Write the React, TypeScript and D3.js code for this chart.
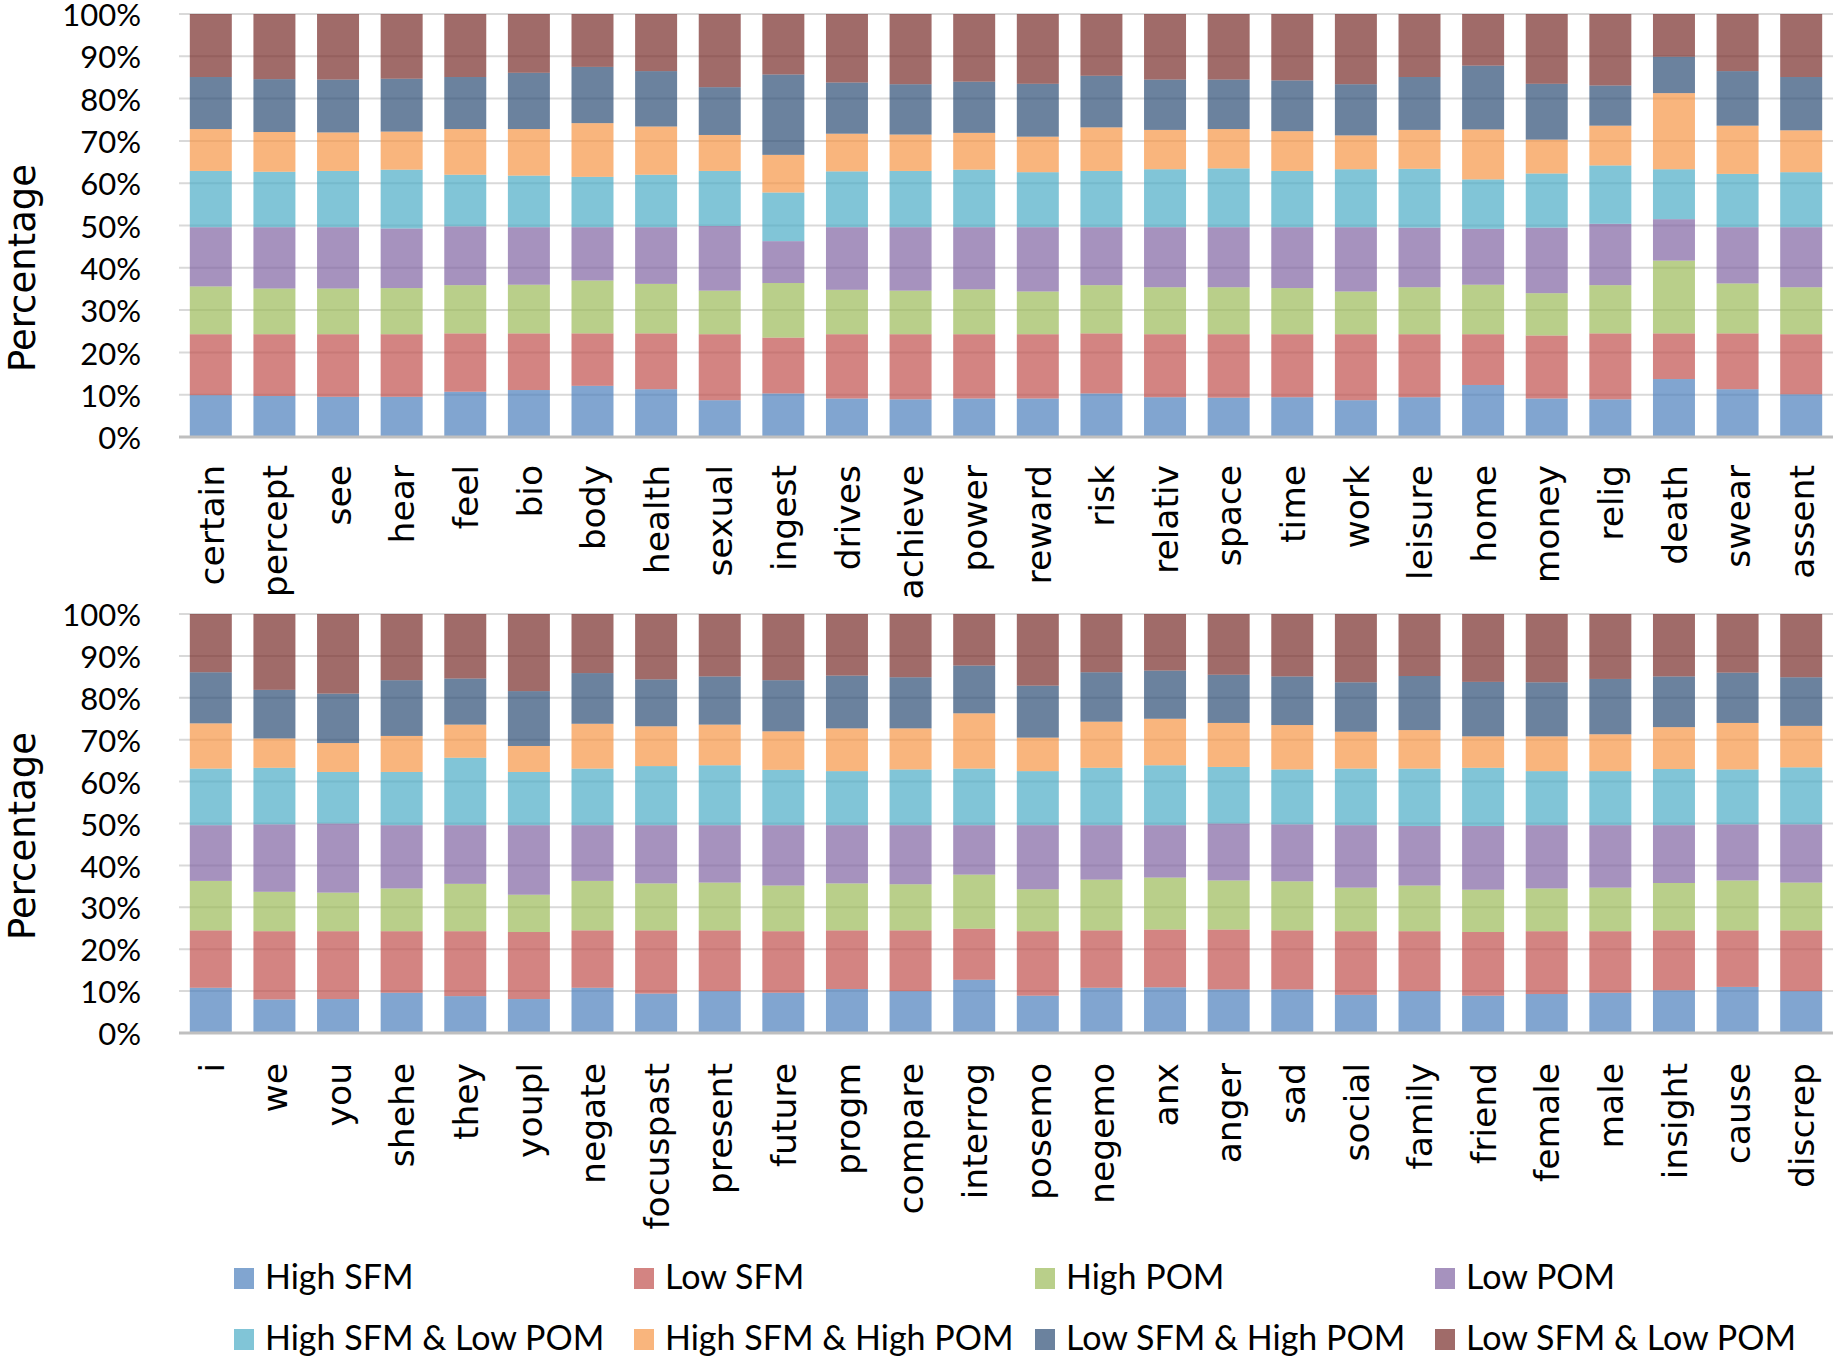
import React from 'react';
import * as d3 from 'd3';

const seriesNames = ['High SFM', 'Low SFM', 'High POM', 'Low POM', 'High SFM & Low POM', 'High SFM & High POM', 'Low SFM & High POM', 'Low SFM & Low POM'];
const seriesColors = ['#4C7FBC', '#C0504D', '#9BBB59', '#8064A2', '#4BACC6', '#F79646', '#2C4D75', '#772C2A'];

const topCategories = ['certain', 'percept', 'see', 'hear', 'feel', 'bio', 'body', 'health', 'sexual', 'ingest', 'drives', 'achieve', 'power', 'reward', 'risk', 'relativ', 'space', 'time', 'work', 'leisure', 'home', 'money', 'relig', 'death', 'swear', 'assent'];
const bottomCategories = ['i', 'we', 'you', 'shehe', 'they', 'youpl', 'negate', 'focuspast', 'present', 'future', 'progm', 'compare', 'interrog', 'posemo', 'negemo', 'anx', 'anger', 'sad', 'social', 'family', 'friend', 'female', 'male', 'insight', 'cause', 'discrep'];

// Top chart series (percent of each bar)
const topHighSFM = [9.9, 9.7, 9.5, 9.5, 10.7, 11.1, 12.1, 11.3, 8.7, 10.3, 9.1, 8.9, 9.1, 9.1, 10.3, 9.4, 9.3, 9.4, 8.7, 9.4, 12.3, 9.1, 8.9, 13.7, 11.3, 10.1];
const topLowSFM = [14.4, 14.6, 14.8, 14.8, 13.8, 13.4, 12.4, 13.2, 15.6, 13.2, 15.2, 15.4, 15.2, 15.2, 14.2, 14.9, 15.0, 14.9, 15.6, 14.9, 12.0, 14.9, 15.6, 10.8, 13.2, 14.2];
const topHighPOM = [11.3, 10.8, 10.8, 10.9, 11.4, 11.5, 12.5, 11.7, 10.3, 12.9, 10.5, 10.3, 10.6, 10.1, 11.4, 11.1, 11.1, 10.9, 10.1, 11.1, 11.7, 10.0, 11.4, 17.2, 11.8, 11.1];
const topLowPOM = [14.0, 14.5, 14.5, 14.1, 13.9, 13.6, 12.6, 13.4, 15.3, 9.9, 14.8, 15.0, 14.7, 15.2, 13.7, 14.2, 14.2, 14.4, 15.2, 14.1, 13.2, 15.5, 14.5, 9.8, 13.3, 14.2];
const topHighSFMLowPOM = [13.3, 13.1, 13.3, 13.9, 12.2, 12.2, 11.9, 12.4, 13.0, 11.5, 13.2, 13.3, 13.6, 13.0, 13.3, 13.7, 13.9, 13.3, 13.7, 13.9, 11.7, 12.8, 13.8, 11.8, 12.6, 13.0];
const topHighSFMHighPOM = [9.9, 9.4, 9.1, 9.0, 10.8, 11.0, 12.7, 11.4, 8.5, 8.9, 8.9, 8.6, 8.7, 8.4, 10.3, 9.3, 9.3, 9.4, 8.0, 9.2, 11.8, 8.0, 9.4, 18.0, 11.4, 9.9];
const topLowSFMHighPOM = [12.3, 12.5, 12.5, 12.5, 12.3, 13.3, 13.3, 13.1, 11.3, 19.0, 12.1, 11.9, 12.1, 12.5, 12.2, 11.9, 11.7, 12.0, 12.1, 12.5, 15.1, 13.2, 9.5, 8.6, 12.9, 12.6];
const topLowSFMLowPOM = [14.9, 15.4, 15.5, 15.3, 14.9, 13.9, 12.5, 13.5, 17.3, 14.3, 16.2, 16.6, 16.0, 16.5, 14.6, 15.5, 15.5, 15.7, 16.6, 14.9, 12.2, 16.5, 16.9, 10.1, 13.5, 14.9];

// Bottom chart series
const botHighSFM = [10.8, 8.0, 8.1, 9.6, 8.8, 8.1, 10.8, 9.4, 10.0, 9.6, 10.5, 10.0, 12.7, 8.9, 10.8, 10.9, 10.4, 10.4, 9.1, 10.0, 8.9, 9.3, 9.6, 10.2, 11.0, 10.0];
const botLowSFM = [13.7, 16.3, 16.2, 14.7, 15.5, 16.0, 13.7, 15.1, 14.5, 14.7, 14.0, 14.5, 12.2, 15.4, 13.7, 13.8, 14.3, 14.1, 15.2, 14.3, 15.2, 15.0, 14.7, 14.3, 13.5, 14.5];
const botHighPOM = [11.8, 9.4, 9.2, 10.2, 11.3, 8.9, 11.8, 11.2, 11.4, 10.9, 11.2, 11.0, 12.9, 10.0, 12.1, 12.4, 11.7, 11.7, 10.4, 10.9, 10.1, 10.2, 10.4, 11.3, 11.9, 11.4];
const botLowPOM = [13.3, 16.1, 16.5, 15.1, 14.0, 16.6, 13.3, 13.9, 13.7, 14.4, 13.9, 14.1, 11.8, 15.3, 13.0, 12.5, 13.6, 13.6, 14.9, 14.2, 15.2, 15.1, 14.9, 13.8, 13.4, 13.9];
const botHighSFMLowPOM = [13.5, 13.5, 12.3, 12.7, 16.1, 12.7, 13.5, 14.1, 14.3, 13.2, 12.9, 13.3, 13.5, 12.9, 13.7, 14.3, 13.5, 13.1, 13.5, 13.7, 13.9, 12.9, 12.9, 13.4, 13.1, 13.6];
const botHighSFMHighPOM = [10.8, 7.0, 6.9, 8.6, 7.9, 6.2, 10.7, 9.5, 9.7, 9.2, 10.2, 9.8, 13.2, 8.0, 11.0, 11.1, 10.5, 10.6, 8.8, 9.2, 7.5, 8.3, 8.8, 10.0, 11.1, 9.9];
const botLowSFMHighPOM = [12.2, 11.6, 11.8, 13.3, 11.0, 13.1, 12.1, 11.2, 11.5, 12.2, 12.6, 12.2, 11.4, 12.4, 11.8, 11.5, 11.5, 11.6, 11.8, 12.9, 13.0, 12.9, 13.2, 12.1, 12.0, 11.6];
const botLowSFMLowPOM = [13.9, 18.1, 19.0, 15.8, 15.4, 18.4, 14.1, 15.6, 14.9, 15.8, 14.7, 15.1, 12.3, 17.1, 13.9, 13.5, 14.5, 14.9, 16.3, 14.8, 16.2, 16.3, 15.5, 14.9, 14.0, 15.1];

const yTicks = [0, 0.1, 0.2, 0.3, 0.4, 0.5, 0.6, 0.7, 0.8, 0.9, 1.0];

const topSeries = [topHighSFM, topLowSFM, topHighPOM, topLowPOM, topHighSFMLowPOM, topHighSFMHighPOM, topLowSFMHighPOM, topLowSFMLowPOM];
const botSeries = [botHighSFM, botLowSFM, botHighPOM, botLowPOM, botHighSFMLowPOM, botHighSFMHighPOM, botLowSFMHighPOM, botLowSFMLowPOM];

const W = 1837;
const H = 1358;
const X0 = 179;
const X1 = 1833;
const tickFont = 'Lato, "Liberation Sans", sans-serif';
const catFont = '"DejaVu Sans", Verdana, sans-serif';

type PanelProps = {
  categories: string[];
  series: number[][];
  yTop: number;
  yBottom: number;
  labelY: number;
  titleY: number;
};

function Panel({ categories, series, yTop, yBottom, labelY, titleY }: PanelProps) {
  const rows = categories.map((c, i) => {
    const r: any = { cat: c };
    seriesNames.forEach((s, k) => { r[s] = series[k][i]; });
    return r;
  });
  const stacked = d3.stack<any>().keys(seriesNames).offset(d3.stackOffsetExpand)(rows);
  const x = d3.scaleBand<string>().domain(categories).range([X0, X1]).paddingInner(0.34).paddingOuter(0.17);
  const y = d3.scaleLinear().domain([0, 1]).range([yBottom, yTop]);
  const fmt = d3.format('.0%');
  return (
    <g>
      {yTicks.filter((t) => t > 0).map((t) => (
        <line key={'g' + t} x1={X0} x2={X1} y1={y(t)} y2={y(t)} stroke="#d9d9d9" strokeWidth={2} />
      ))}
      {stacked.map((layer, k) => (
        <g key={layer.key} fill={seriesColors[k]} fillOpacity={0.7}>
          {layer.map((d, i) => (
            <rect key={i} x={x(categories[i])} width={x.bandwidth()} y={y(d[1])} height={y(d[0]) - y(d[1])} />
          ))}
        </g>
      ))}
      <line x1={X0} x2={X1} y1={y(0)} y2={y(0)} stroke="#bfbfbf" strokeWidth={3} />
      {yTicks.map((t) => (
        <text key={'t' + t} x={141} y={y(t) + 1} dy="0.36em" textAnchor="end" fontFamily={tickFont} fontSize={31} fill="#000">
          {fmt(t)}
        </text>
      ))}
      {categories.map((c) => (
        <text
          key={c}
          transform={`translate(${(x(c) as number) + x.bandwidth() / 2},${labelY}) rotate(-90)`}
          dy="0.37em"
          textAnchor="end"
          fontFamily={catFont}
          fontSize={34.5}
          fill="#000"
        >
          {c}
        </text>
      ))}
      <text transform={`translate(35,${titleY}) rotate(-90)`} textAnchor="middle" fontFamily={catFont} fontSize={37} fill="#000">
        Percentage
      </text>
    </g>
  );
}

export default function App() {
  const legendCols = [234, 634, 1035, 1435];
  const legendRows = [1289, 1350];
  return (
    <svg width={W} height={H} style={{ position: 'absolute', left: 0, top: 0, background: '#fff' }}>
      <rect x={0} y={0} width={W} height={H} fill="#fff" />
      <Panel categories={topCategories} series={topSeries} yTop={14} yBottom={437} labelY={465} titleY={268} />
      <Panel categories={bottomCategories} series={botSeries} yTop={614} yBottom={1033} labelY={1063} titleY={836} />
      {seriesNames.map((s, k) => {
        const cx = legendCols[k % 4];
        const by = legendRows[Math.floor(k / 4)];
        return (
          <g key={s}>
            <rect x={cx} y={by - 21} width={20} height={21} fill={seriesColors[k]} fillOpacity={0.7} />
            <text x={cx + 31} y={by} fontFamily={tickFont} fontSize={34} fill="#000">
              {s}
            </text>
          </g>
        );
      })}
    </svg>
  );
}
